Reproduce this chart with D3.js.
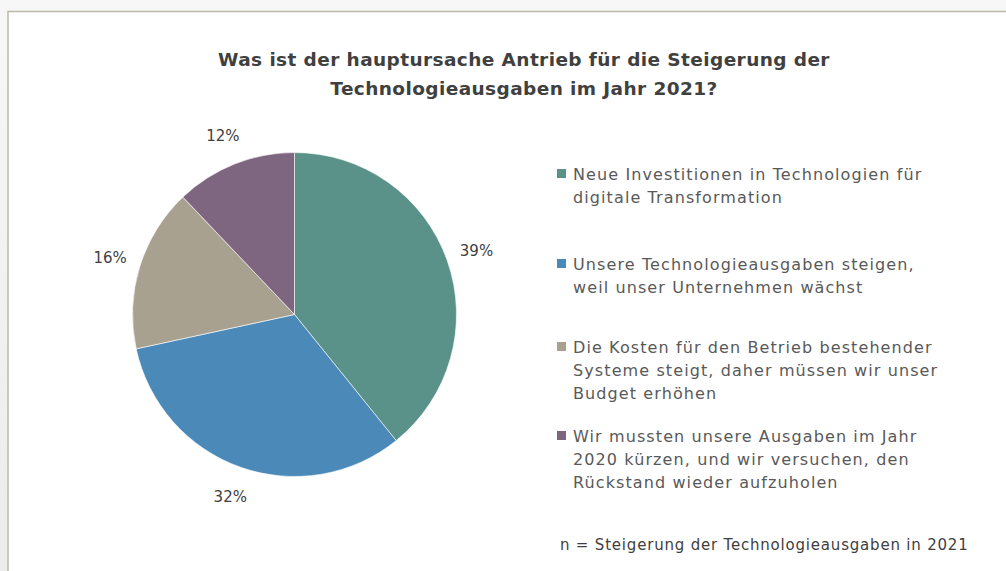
<!DOCTYPE html>
<html><head><meta charset="utf-8">
<script src="https://cdn.jsdelivr.net/npm/d3@7"></script>
<style>
html,body{margin:0;padding:0;background:#f1f1f1;}
svg{display:block;}
</style></head>
<body>
<svg id="chart" width="1006" height="571"></svg>
<script>
const categories = [
  "Neue Investitionen in Technologien für digitale Transformation",
  "Unsere Technologieausgaben steigen, weil unser Unternehmen wächst",
  "Die Kosten für den Betrieb bestehender Systeme steigt, daher müssen wir unser Budget erhöhen",
  "Wir mussten unsere Ausgaben im Jahr 2020 kürzen, und wir versuchen, den Rückstand wieder aufzuholen"
];
const legendLines = [
  ["Neue Investitionen in Technologien für", "digitale Transformation"],
  ["Unsere Technologieausgaben steigen,", "weil unser Unternehmen wächst"],
  ["Die Kosten für den Betrieb bestehender", "Systeme steigt, daher müssen wir unser", "Budget erhöhen"],
  ["Wir mussten unsere Ausgaben im Jahr", "2020 kürzen, und wir versuchen, den", "Rückstand wieder aufzuholen"]
];
const values = [39.2, 32.4, 16.3, 12.1];
const valueLabels = ["39%", "32%", "16%", "12%"];
const colors = ["#5a9289", "#4a89b8", "#a8a190", "#7e6580"];
const titleLines = ["Was ist der hauptursache Antrieb für die Steigerung der", "Technologieausgaben im Jahr 2021?"];
const footnote = "n = Steigerung der Technologieausgaben in 2021";

const svg = d3.select("#chart");
const defs = svg.append("defs");
const g0 = defs.append("linearGradient").attr("id","bg").attr("x1",0).attr("y1",0).attr("x2",0).attr("y2",1);
g0.append("stop").attr("offset","0%").attr("stop-color","#f7f7f7");
g0.append("stop").attr("offset","100%").attr("stop-color","#ececec");
svg.append("rect").attr("width",1006).attr("height",571).attr("fill","url(#bg)");
svg.append("rect").attr("x",8).attr("y",11.5).attr("width",1010).attr("height",580)
  .attr("fill","#ffffff").attr("stroke","#bdb9a9").attr("stroke-width",1.5);

const font = "'DejaVu Sans', sans-serif";
svg.append("g").selectAll("text").data(titleLines).join("text")
  .attr("x",524).attr("y",(d,i)=>66+i*29)
  .attr("text-anchor","middle")
  .attr("font-family",font).attr("font-weight","bold").attr("font-size",18.5)
  .attr("letter-spacing",0.4)
  .attr("fill","#404040").text(d=>d);

const cx = 294.5, cy = 314.5, r = 162;
const pie = d3.pie().sort(null).value(d=>d);
const arcs = pie(values);
const arc = d3.arc().innerRadius(0).outerRadius(r);
const labelArc = d3.arc().innerRadius(193).outerRadius(193);
const pg = svg.append("g").attr("transform",`translate(${cx},${cy})`);
pg.selectAll("path").data(arcs).join("path")
  .attr("d",arc).attr("fill",(d,i)=>colors[i])
  .attr("stroke","#ffffff").attr("stroke-width",0.6);
pg.selectAll("text").data(arcs).join("text")
  .attr("x",d=>labelArc.centroid(d)[0]).attr("y",d=>labelArc.centroid(d)[1])
  .attr("text-anchor","middle").attr("dy","0.35em")
  .attr("font-family",font).attr("font-size",15).attr("fill","#404040")
  .text((d,i)=>valueLabels[i]);

const legendY = [174, 264, 347, 436];
const lg = svg.append("g");
legendLines.forEach((lines,i)=>{
  lg.append("rect").attr("x",557).attr("y",legendY[i]-5).attr("width",9).attr("height",9).attr("fill",colors[i]);
  lg.append("g").selectAll("text").data(lines).join("text")
    .attr("x",573).attr("y",(d,j)=>legendY[i]+j*23).attr("dy","0.35em")
    .attr("font-family",font).attr("font-size",16).attr("fill","#595959")
    .attr("letter-spacing",1.1)
    .text(d=>d);
});

svg.append("text").attr("x",560).attr("y",545).attr("dy","0.35em")
  .attr("font-family",font).attr("font-size",15).attr("fill","#404040")
  .attr("letter-spacing",0.8).text(footnote);
</script>
</body></html>
